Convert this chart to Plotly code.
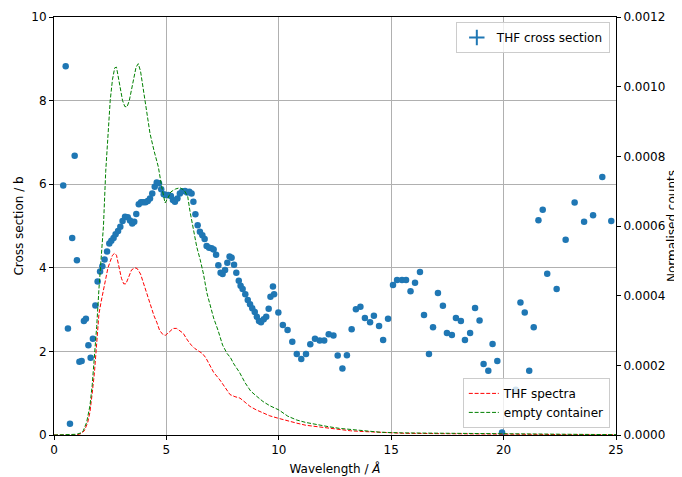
import numpy as np
import plotly.graph_objects as go

# THF cross section (scatter, left axis)
xs_wavelength = [0.41, 0.52, 0.62, 0.71, 0.81, 0.92, 1.02, 1.13, 1.23, 1.33, 1.42, 1.53, 1.63, 1.73, 1.84,
                 1.94, 2.05, 2.15, 2.25, 2.36, 2.46, 2.55, 2.65, 2.74, 2.85, 2.95, 3.05, 3.16, 3.28, 3.38,
                 3.48, 3.57, 3.66, 3.77, 3.87, 3.97, 4.07, 4.17, 4.27, 4.37, 4.48, 4.57, 4.67, 4.77, 4.88,
                 4.98, 5.08, 5.20, 5.29, 5.38, 5.49, 5.60, 5.71, 5.83, 5.92, 6.02, 6.12, 6.20, 6.29, 6.39,
                 6.49, 6.60, 6.70, 6.79, 6.90, 7.01, 7.10, 7.21, 7.31, 7.41, 7.50, 7.61, 7.71, 7.81, 7.90,
                 8.01, 8.11, 8.22, 8.30, 8.39, 8.51, 8.62, 8.72, 8.82, 8.93, 9.02, 9.12, 9.21, 9.33, 9.44,
                 9.55, 9.63, 9.74, 9.79, 9.98, 10.18, 10.39, 10.60, 10.80, 11.00, 11.21, 11.40, 11.61, 11.82,
                 12.02, 12.22, 12.43, 12.62, 12.83, 13.03, 13.24, 13.43, 13.63, 13.83, 14.06, 14.23, 14.46,
                 14.64, 14.86, 15.08, 15.26, 15.48, 15.66, 15.86, 16.06, 16.28, 16.46, 16.68, 16.86, 17.08,
                 17.30, 17.48, 17.70, 17.88, 18.10, 18.28, 18.51, 18.73, 18.93, 19.11, 19.32, 19.51, 19.72,
                 19.93, 20.54, 20.75, 20.94, 21.14, 21.34, 21.55, 21.74, 21.94, 22.36, 22.76, 23.16, 23.58,
                 23.98, 24.39, 24.79]
xs_values = [5.97, 8.82, 2.55, 0.27, 4.71, 6.68, 4.18, 1.75, 1.77, 2.73, 2.78, 2.15, 1.85, 2.30, 3.10,
             3.67, 3.91, 4.04, 4.20, 4.39, 4.58, 4.65, 4.71, 4.80, 4.88, 4.98, 5.12, 5.22, 5.21, 5.13,
             5.06, 5.10, 5.29, 5.52, 5.57, 5.57, 5.57, 5.60, 5.66, 5.78, 5.94, 6.04, 6.02, 5.88, 5.76,
             5.74, 5.74, 5.72, 5.62, 5.58, 5.66, 5.78, 5.83, 5.84, 5.80, 5.82, 5.78, 5.58, 5.28, 5.02,
             4.86, 4.78, 4.69, 4.52, 4.48, 4.47, 4.44, 4.31, 4.06, 3.88, 3.85, 3.95, 4.12, 4.27, 4.24,
             4.07, 3.88, 3.69, 3.57, 3.49, 3.37, 3.23, 3.13, 3.03, 2.94, 2.83, 2.73, 2.70, 2.77, 2.83,
             3.02, 3.31, 3.55, 3.37, 2.93, 2.63, 2.51, 2.23, 1.94, 1.82, 1.94, 2.17, 2.30, 2.26,
             2.26, 2.41, 2.38, 1.90, 1.59, 1.91, 2.53, 3.01, 3.07, 2.80, 2.70, 2.85, 2.61,
             2.27, 2.78, 3.59, 3.71, 3.71, 3.71, 3.44, 3.64, 3.90, 2.87, 1.94, 2.58, 3.40,
             3.09, 2.44, 2.39, 2.80, 2.73, 2.27, 2.44, 3.04, 2.74, 1.70, 1.54, 2.18, 1.77,
             0.06, 1.08, 3.17, 2.93, 1.54, 2.58, 5.14, 5.39, 3.86, 3.49, 4.67, 5.56, 5.10,
             5.26, 6.17, 5.12]

# Spectra (right axis), values in units of 1e-4 normalised counts
spec_wavelength = [0.0, 1.0, 1.2, 1.35, 1.5, 1.6, 1.7, 1.8, 1.9, 2.0, 2.1, 2.2, 2.3, 2.4, 2.5, 2.6, 2.7,
                   2.78, 2.9, 3.0, 3.1, 3.2, 3.3, 3.45, 3.6, 3.7, 3.85, 4.0, 4.12, 4.3, 4.45, 4.57, 4.7,
                   4.85, 4.95, 5.1, 5.3, 5.45, 5.6, 5.75, 5.9, 6.05, 6.27, 6.45, 6.6, 6.75, 6.9, 7.1,
                   7.38, 7.6, 7.83, 8.05, 8.27, 8.5, 8.72, 9.0, 9.31, 9.6, 9.98, 10.4, 10.8, 11.2, 11.7,
                   12.2, 12.72, 13.2, 13.76, 14.5, 15.5, 17.0, 19.0, 21.0, 23.0, 25.0]
thf_spectra_e4 = [0.0, 0.0, 0.04, 0.12, 0.36, 0.66, 1.2, 1.8, 2.64, 3.48, 3.84, 4.14, 4.5, 4.8, 4.98, 5.16,
                  5.22, 5.16, 4.8, 4.5, 4.34, 4.34, 4.5, 4.74, 4.8, 4.78, 4.62, 4.32, 4.07, 3.66, 3.42,
                  3.24, 3.0, 2.88, 2.86, 2.94, 3.06, 3.06, 3.0, 2.92, 2.76, 2.62, 2.48, 2.4, 2.34, 2.22,
                  2.04, 1.8, 1.58, 1.38, 1.16, 1.1, 1.06, 0.94, 0.82, 0.72, 0.62, 0.55, 0.48, 0.4, 0.34,
                  0.28, 0.24, 0.18, 0.14, 0.12, 0.1, 0.07, 0.05, 0.04, 0.02, 0.02, 0.01, 0.01]

empty_wavelength = [0.0, 0.5, 1.0, 1.2, 1.3, 1.45, 1.6, 1.7, 1.8, 1.9, 2.0, 2.1, 2.2, 2.3, 2.4, 2.5, 2.6,
                    2.7, 2.78, 2.85, 2.95, 3.05, 3.15, 3.25, 3.35, 3.45, 3.55, 3.65, 3.75, 3.85, 3.95,
                    4.05, 4.15, 4.27, 4.45, 4.64, 4.79, 4.94, 5.05, 5.2, 5.4, 5.6, 5.8, 5.95, 6.05, 6.2,
                    6.35, 6.5, 6.65, 6.8, 6.95, 7.1, 7.3, 7.5, 7.7, 7.85, 8.0, 8.25, 8.5, 8.75, 9.0, 9.3,
                    9.6, 10.0, 10.4, 10.8, 11.2, 11.7, 12.2, 12.7, 13.2, 13.8, 14.5, 15.5, 17.0, 19.0,
                    21.0, 23.0, 25.0]
empty_container_e4 = [0.0, 0.0, 0.02, 0.06, 0.12, 0.36, 0.84, 1.44, 2.16, 3.12, 4.2, 5.16, 6.0, 7.56, 8.76,
                      9.6, 10.2, 10.54, 10.56, 10.32, 9.96, 9.6, 9.43, 9.42, 9.6, 9.96, 10.32, 10.56, 10.66,
                      10.44, 10.02, 9.6, 9.12, 8.66, 8.16, 7.7, 7.13, 6.66, 6.78, 6.98, 7.06, 7.1, 7.02,
                      6.84, 6.42, 5.88, 5.4, 5.04, 4.62, 4.08, 3.68, 3.36, 3.0, 2.58, 2.34, 2.22, 2.04,
                      1.8, 1.5, 1.26, 1.12, 0.96, 0.84, 0.72, 0.54, 0.43, 0.36, 0.29, 0.24, 0.19, 0.16,
                      0.12, 0.08, 0.06, 0.05, 0.04, 0.03, 0.02, 0.01]

x_ticks = [0, 5, 10, 15, 20, 25]
y_ticks = [0, 2, 4, 6, 8, 10]
y2_ticks = [0.0, 0.0002, 0.0004, 0.0006, 0.0008, 0.0010, 0.0012]

BLUE = "#1f77b4"
FONT = "DejaVu Sans"

fig = go.Figure()

fig.add_trace(go.Scatter(
    x=xs_wavelength, y=xs_values, mode="markers",
    marker=dict(color=BLUE, size=6.5, line=dict(width=0)),
    showlegend=False, yaxis="y", cliponaxis=False,
))
# legend entry for cross section (errorbar style marker)
fig.add_trace(go.Scatter(
    x=[None], y=[None], mode="markers", name="THF cross section",
    marker=dict(color=BLUE, size=11, symbol="cross-thin", line=dict(color=BLUE, width=2)),
    legend="legend",
))
fig.add_trace(go.Scatter(
    x=spec_wavelength, y=np.array(thf_spectra_e4) * 1e-4, mode="lines", name="THF spectra",
    line=dict(color="red", width=1, dash="4px,1.8px"), yaxis="y2", legend="legend2",
))
fig.add_trace(go.Scatter(
    x=empty_wavelength, y=np.array(empty_container_e4) * 1e-4, mode="lines", name="empty container",
    line=dict(color="green", width=1, dash="4px,1.8px"), yaxis="y2", legend="legend2",
))

axis_common = dict(
    showline=True, linecolor="black", linewidth=1, ticks="outside", ticklen=4, tickwidth=1,
    tickcolor="black", zeroline=False, tickfont=dict(family=FONT, size=12, color="black"),
    automargin=False,
)

# The page body has an 8px margin, so the figure is sized to fill the 682x477 window from (8, 8).
fig.update_layout(
    width=674, height=469,
    margin=dict(l=46, r=66, t=9, b=42),
    paper_bgcolor="white", plot_bgcolor="white",
    font=dict(family=FONT, size=12, color="black"),
    xaxis=dict(range=[0, 25], tickvals=x_ticks, showgrid=True, gridcolor="#b0b0b0", gridwidth=1,
               mirror=True, title=dict(text="Wavelength / <i>Å</i>", standoff=8,
                                       font=dict(family=FONT, size=12)),
               **axis_common),
    yaxis=dict(range=[0, 10], tickvals=y_ticks, showgrid=True, gridcolor="#b0b0b0", gridwidth=1,
               title=dict(text="Cross section / b", standoff=5, font=dict(family=FONT, size=12)),
               **axis_common),
    yaxis2=dict(range=[0, 0.0012], tickvals=y2_ticks, tickformat=".4f", overlaying="y", side="right",
                showgrid=False, title=dict(text="Normalised counts", standoff=1,
                                           font=dict(family=FONT, size=12)),
                **axis_common),
    legend=dict(x=0.989, y=0.988, xanchor="right", yanchor="top",
                bgcolor="rgba(255,255,255,0.8)", bordercolor="#cccccc", borderwidth=1,
                font=dict(family=FONT, size=12)),
    legend2=dict(x=0.989, y=0.017, xanchor="right", yanchor="bottom",
                 bgcolor="rgba(255,255,255,0.8)", bordercolor="#cccccc", borderwidth=1,
                 font=dict(family=FONT, size=12), tracegroupgap=0),
)

fig.write_html("out.html")
